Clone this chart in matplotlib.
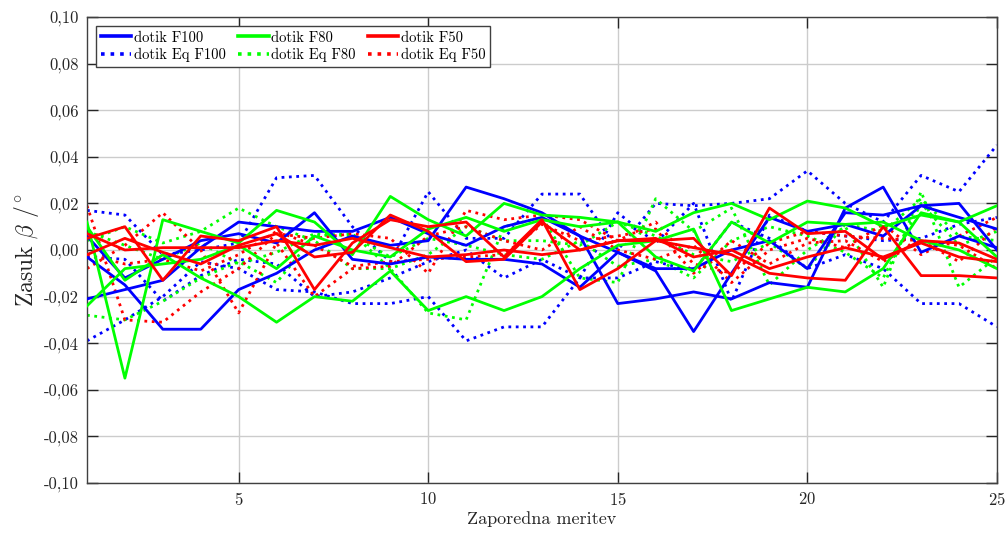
import matplotlib
matplotlib.use("Agg")
import matplotlib.pyplot as plt
from matplotlib.ticker import FuncFormatter
import numpy as np

meritev = np.arange(1, 26)

# dotik F100 (tri ponovitve)
f100_1 = [-0.021, -0.017, -0.013, 0.001, 0.012, 0.010, 0.008, 0.008, 0.014, 0.007, 0.002, 0.010, 0.014,
          0.006, -0.001, -0.008, -0.008, 0.000, 0.004, -0.008, 0.016, 0.015, 0.019, 0.014, 0.009]
f100_2 = [-0.003, -0.015, -0.034, -0.034, -0.017, -0.010, 0.000, 0.006, 0.002, 0.004, 0.027, 0.022, 0.016,
          0.006, -0.023, -0.021, -0.018, -0.021, -0.014, -0.016, 0.018, 0.027, -0.001, 0.006, 0.001]
f100_3 = [0.006, -0.012, -0.004, 0.004, 0.007, 0.003, 0.016, -0.004, -0.006, -0.003, -0.004, -0.004, -0.006,
          -0.016, -0.001, -0.009, -0.035, -0.010, 0.014, 0.008, 0.011, 0.006, 0.019, 0.020, 0.000]

# dotik F80
f80_1 = [0.012, -0.055, 0.013, 0.008, 0.003, 0.017, 0.012, -0.002, 0.023, 0.013, 0.006, 0.020, 0.015,
         0.014, 0.012, 0.008, 0.016, 0.020, 0.013, 0.021, 0.018, 0.010, 0.015, 0.012, 0.019]
f80_2 = [0.010, -0.013, -0.002, -0.012, -0.020, -0.031, -0.020, -0.022, -0.009, -0.026, -0.020, -0.026, -0.020,
         -0.008, 0.002, 0.004, 0.009, -0.026, -0.021, -0.016, -0.018, -0.008, 0.016, 0.012, -0.003]
f80_3 = [-0.024, -0.008, -0.006, -0.004, 0.002, -0.008, 0.006, 0.000, -0.003, 0.009, 0.014, 0.008, 0.013,
         0.010, 0.012, -0.003, -0.009, 0.012, 0.003, 0.012, 0.011, 0.012, 0.004, 0.000, -0.008]

# dotik F50
f50_1 = [0.005, 0.010, -0.013, 0.006, 0.004, 0.010, -0.017, 0.003, 0.013, 0.010, 0.012, -0.003, 0.013,
         -0.017, -0.008, 0.004, 0.005, -0.011, 0.018, 0.007, 0.008, -0.004, 0.004, 0.003, -0.004]
f50_2 = [-0.002, 0.005, -0.001, -0.006, 0.002, 0.007, -0.003, -0.001, 0.015, 0.008, -0.005, -0.004, 0.012,
         0.000, 0.004, 0.004, 0.001, -0.002, -0.010, -0.012, -0.013, 0.010, -0.011, -0.011, -0.012]
f50_3 = [0.007, 0.000, 0.001, 0.001, 0.001, 0.004, 0.002, 0.005, 0.001, -0.003, -0.002, 0.000, -0.002,
         0.000, 0.004, 0.005, -0.003, 0.000, -0.008, -0.003, 0.001, -0.003, 0.003, -0.003, -0.005]

# dotik Eq F100
eq100_1 = [0.017, 0.015, -0.002, 0.000, 0.003, 0.031, 0.032, 0.010, -0.005, 0.025, 0.005, 0.005, 0.024,
           0.024, 0.000, 0.020, 0.019, 0.020, 0.022, 0.034, 0.020, 0.012, 0.032, 0.025, 0.045]
eq100_2 = [-0.039, -0.030, -0.020, -0.005, -0.008, -0.017, -0.018, -0.023, -0.023, -0.020, -0.039, -0.033, -0.033,
           -0.012, 0.016, 0.003, 0.020, -0.022, 0.015, 0.008, 0.006, 0.004, 0.005, 0.011, 0.014]
eq100_3 = [-0.003, -0.004, -0.022, -0.011, -0.004, -0.006, -0.020, -0.018, -0.012, -0.005, 0.000, -0.012, -0.004,
           -0.012, -0.012, -0.005, -0.009, 0.012, 0.005, -0.008, -0.002, -0.008, -0.023, -0.023, -0.033]

# dotik Eq F80
eq80_1 = [-0.028, -0.030, -0.022, -0.012, -0.005, -0.014, 0.006, 0.007, -0.008, -0.027, -0.030, 0.010, 0.014,
          -0.012, -0.014, 0.022, 0.008, 0.018, -0.015, 0.000, 0.010, -0.016, 0.025, -0.016, -0.003]
eq80_2 = [0.004, 0.010, 0.003, 0.008, 0.018, 0.010, 0.004, -0.008, -0.008, -0.002, 0.010, 0.004, 0.004,
          0.002, 0.012, 0.006, -0.002, -0.005, 0.003, -0.008, 0.011, 0.008, 0.022, 0.006, 0.004]
eq80_3 = [0.008, 0.002, -0.004, 0.003, -0.006, -0.001, 0.007, 0.006, -0.003, 0.005, 0.002, -0.002, -0.004,
          0.004, -0.007, -0.004, -0.012, 0.004, 0.010, 0.006, -0.001, -0.012, 0.020, 0.002, 0.008]

# dotik Eq F50
eq50_1 = [0.019, -0.030, -0.031, -0.018, -0.008, 0.007, 0.005, 0.007, 0.005, -0.010, 0.017, 0.013, 0.015,
          0.013, 0.004, 0.012, -0.006, -0.010, 0.003, 0.008, 0.006, 0.005, 0.004, 0.002, -0.008]
eq50_2 = [-0.008, 0.002, 0.016, 0.000, -0.027, 0.003, -0.020, -0.008, -0.007, 0.006, 0.010, 0.004, 0.000,
          0.010, 0.000, -0.004, 0.002, -0.014, 0.000, 0.005, 0.001, 0.011, -0.002, 0.006, 0.014]
eq50_3 = [-0.002, -0.006, -0.004, -0.009, -0.002, 0.008, 0.002, -0.007, -0.005, -0.004, -0.003, -0.002, 0.011,
          0.004, 0.006, 0.009, -0.010, 0.004, -0.006, 0.003, 0.004, -0.005, 0.004, -0.005, 0.010]

serije = [
    ("dotik F100", [f100_1, f100_2, f100_3], "#0000ff", "-"),
    ("dotik Eq F100", [eq100_1, eq100_2, eq100_3], "#0000ff", ":"),
    ("dotik F80", [f80_1, f80_2, f80_3], "#00ff00", "-"),
    ("dotik Eq F80", [eq80_1, eq80_2, eq80_3], "#00ff00", ":"),
    ("dotik F50", [f50_1, f50_2, f50_3], "#ff0000", "-"),
    ("dotik Eq F50", [eq50_1, eq50_2, eq50_3], "#ff0000", ":"),
]

plt.rcParams.update({
    "font.family": ["cmr10", "DejaVu Serif"],
    "mathtext.fontset": "cm",
    "axes.unicode_minus": False,
    "axes.formatter.use_mathtext": True,
})

fig = plt.figure(figsize=(10.08, 5.34), dpi=100)
ax = fig.add_axes([0.0863, 0.0955, 0.9027, 0.8727])

# crtkane pod polnimi crtami
rocaji = {}
for ime, crte, barva, stil in serije:
    for k, y in enumerate(crte):
        ln, = ax.plot(meritev, y, color=barva, linestyle=stil, linewidth=2.0,
                      zorder=3 if stil == "-" else 2)
        if k == 0:
            rocaji[ime] = ln

ax.set_xlim(1, 25)
ax.set_ylim(-0.10, 0.10)
ax.set_xticks([5, 10, 15, 20, 25])
ax.set_yticks(np.arange(-0.10, 0.101, 0.02))
ax.yaxis.set_major_formatter(FuncFormatter(lambda v, p: f"{v:.2f}".replace(".", ",").replace("-0,00", "0,00")))
ax.grid(True, color="#cccccc", linewidth=1.0, zorder=0)
ax.tick_params(direction="in", length=8, width=1, top=True, right=True,
               labelsize=12, colors="#262626", pad=6)
for s in ax.spines.values():
    s.set_color("#404040")
    s.set_linewidth(1.0)

ax.set_xlabel("Zaporedna meritev", fontsize=13, color="#262626", labelpad=2)
ax.set_ylabel(r"Zasuk $\beta\ /^{\circ}$", fontsize=17, color="#262626", labelpad=2)

leg = ax.legend([rocaji[s[0]] for s in serije], [s[0] for s in serije],
                loc="upper left", ncol=3, fontsize=10.5, frameon=True, fancybox=False,
                handlelength=2.1, handletextpad=0.2, columnspacing=0.8,
                borderpad=0.3, labelspacing=0.25, borderaxespad=0.65)
leg.get_frame().set_edgecolor("#404040")
leg.get_frame().set_linewidth(1.0)
leg.get_frame().set_alpha(1.0)
for h in leg.get_lines():
    h.set_linewidth(2.6)

fig.savefig("out.png", dpi=100)
